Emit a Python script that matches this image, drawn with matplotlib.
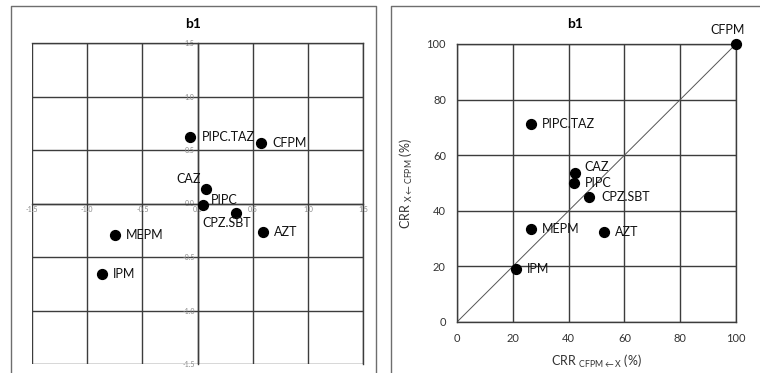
import numpy as np
import matplotlib
matplotlib.use("Agg")
import matplotlib.pyplot as plt
from matplotlib.lines import Line2D

plt.rcParams["font.family"] = ["Lato", "DejaVu Sans"]
plt.rcParams["mathtext.fontset"] = "custom"
plt.rcParams["mathtext.rm"] = "Lato"

# PCA scores (left) and cross-resistance rates (right)
pca_names = ["PIPC.TAZ", "CFPM", "CAZ", "PIPC", "CPZ.SBT", "AZT", "MEPM", "IPM"]
pca_x = [-0.07, 0.58, 0.08, 0.05, 0.35, 0.59, -0.75, -0.87]
pca_y = [0.62, 0.57, 0.14, -0.01, -0.09, -0.27, -0.29, -0.66]

crr_names = ["CFPM", "PIPC.TAZ", "CAZ", "PIPC", "CPZ.SBT", "MEPM", "AZT", "IPM"]
crr_x = [100, 26.5, 42.3, 42.0, 47.4, 26.5, 52.7, 21.2]
crr_y = [100, 71.2, 53.6, 50.0, 45.0, 33.5, 32.4, 19.0]

# label offsets in points (dx, dy, ha)
pca_offsets = {
    "PIPC.TAZ": (9, 0, "left"), "CFPM": (8, 0, "left"), "CAZ": (-4, 7, "right"),
    "PIPC": (6, 3, "left"), "CPZ.SBT": (-7, -7, "center"), "AZT": (8, 0, "left"),
    "MEPM": (8, 0, "left"), "IPM": (8, 0, "left"),
}
crr_offsets = {
    "CFPM": (-6, 10, "center"), "PIPC.TAZ": (8, 0, "left"), "CAZ": (7, 4, "left"),
    "PIPC": (8, 0, "left"), "CPZ.SBT": (9, 0, "left"), "MEPM": (8, 0, "left"),
    "AZT": (8, 0, "left"), "IPM": (8, 0, "left"),
}

W, H = 760, 373
grid_c = "#3c3c3c"
fig = plt.figure(figsize=(W / 100, H / 100), dpi=100)


def px_axes(x0, y0, x1, y1):
    return fig.add_axes([x0 / W, (H - y1) / H, (x1 - x0) / W, (y1 - y0) / H])


# panel frames (open at the bottom)
frame_c = "#6e6e6e"
fig.add_artist(Line2D([11 / W, 11 / W, 376 / W, 376 / W],
                      [0, 1 - 6 / H, 1 - 6 / H, 0], color=frame_c, lw=1.0))
fig.add_artist(Line2D([391 / W, 391 / W, 1.01],
                      [0, 1 - 6 / H, 1 - 6 / H], color=frame_c, lw=1.0))

fig.text(193 / W, 1 - 24 / H, "b1", ha="center", va="center",
         fontsize=10, fontweight="bold")
fig.text(575 / W, 1 - 24 / H, "b1", ha="center", va="center",
         fontsize=10, fontweight="bold")

# left: PCA biplot
ax1 = px_axes(32, 43, 363, 364)
ax1.set_xlim(-1.5, 1.5)
ax1.set_ylim(-1.5, 1.5)
ticks = np.arange(-1.5, 1.51, 0.5)
ax1.set_xticks(ticks)
ax1.set_yticks(ticks)
ax1.set_xticklabels([f"{t:.1f}" for t in ticks])
ax1.set_yticklabels([f"{t:.1f}" for t in ticks])
ax1.spines["left"].set_position("zero")
ax1.spines["bottom"].set_position("zero")
for s in ax1.spines.values():
    s.set_color(grid_c)
    s.set_linewidth(1.0)
ax1.tick_params(length=0, labelsize=5, labelcolor="#8a8a8a", pad=2)
ax1.grid(True, color=grid_c, lw=1.0)
ax1.set_axisbelow(True)
ax1.scatter(pca_x, pca_y, s=50, color="black", zorder=3, clip_on=False)
for n, x, y in zip(pca_names, pca_x, pca_y):
    dx, dy, ha = pca_offsets[n]
    ax1.annotate(n, (x, y), xytext=(dx, dy), textcoords="offset points",
                 ha=ha, va="center", fontsize=9, color="#111111")

# right: cross-resistance rates
ax2 = px_axes(457, 44, 736, 322)
ax2.set_xlim(0, 100)
ax2.set_ylim(0, 100)
ax2.set_xticks(range(0, 101, 20))
ax2.set_yticks(range(0, 101, 20))
for s in ax2.spines.values():
    s.set_color(grid_c)
    s.set_linewidth(1.0)
ax2.tick_params(length=0, labelsize=8, labelcolor="#333333", pad=8)
ax2.grid(True, color=grid_c, lw=1.0)
ax2.set_axisbelow(True)
ax2.plot([0, 100], [0, 100], color="#555555", lw=0.7, zorder=2)
ax2.scatter(crr_x, crr_y, s=50, color="black", zorder=3, clip_on=False)
for n, x, y in zip(crr_names, crr_x, crr_y):
    dx, dy, ha = crr_offsets[n]
    ax2.annotate(n, (x, y), xytext=(dx, dy), textcoords="offset points",
                 ha=ha, va="center", fontsize=9, color="#111111")
ax2.set_xlabel(r"CRR $_{\mathregular{CFPM}\leftarrow\mathregular{X}}$ (%)",
               fontsize=9, color="#333333", labelpad=6)
ax2.set_ylabel(r"CRR $_{\mathregular{X}\leftarrow\mathregular{CFPM}}$ (%)",
               fontsize=9, color="#333333", labelpad=8)

fig.savefig("out.png", dpi=100)
